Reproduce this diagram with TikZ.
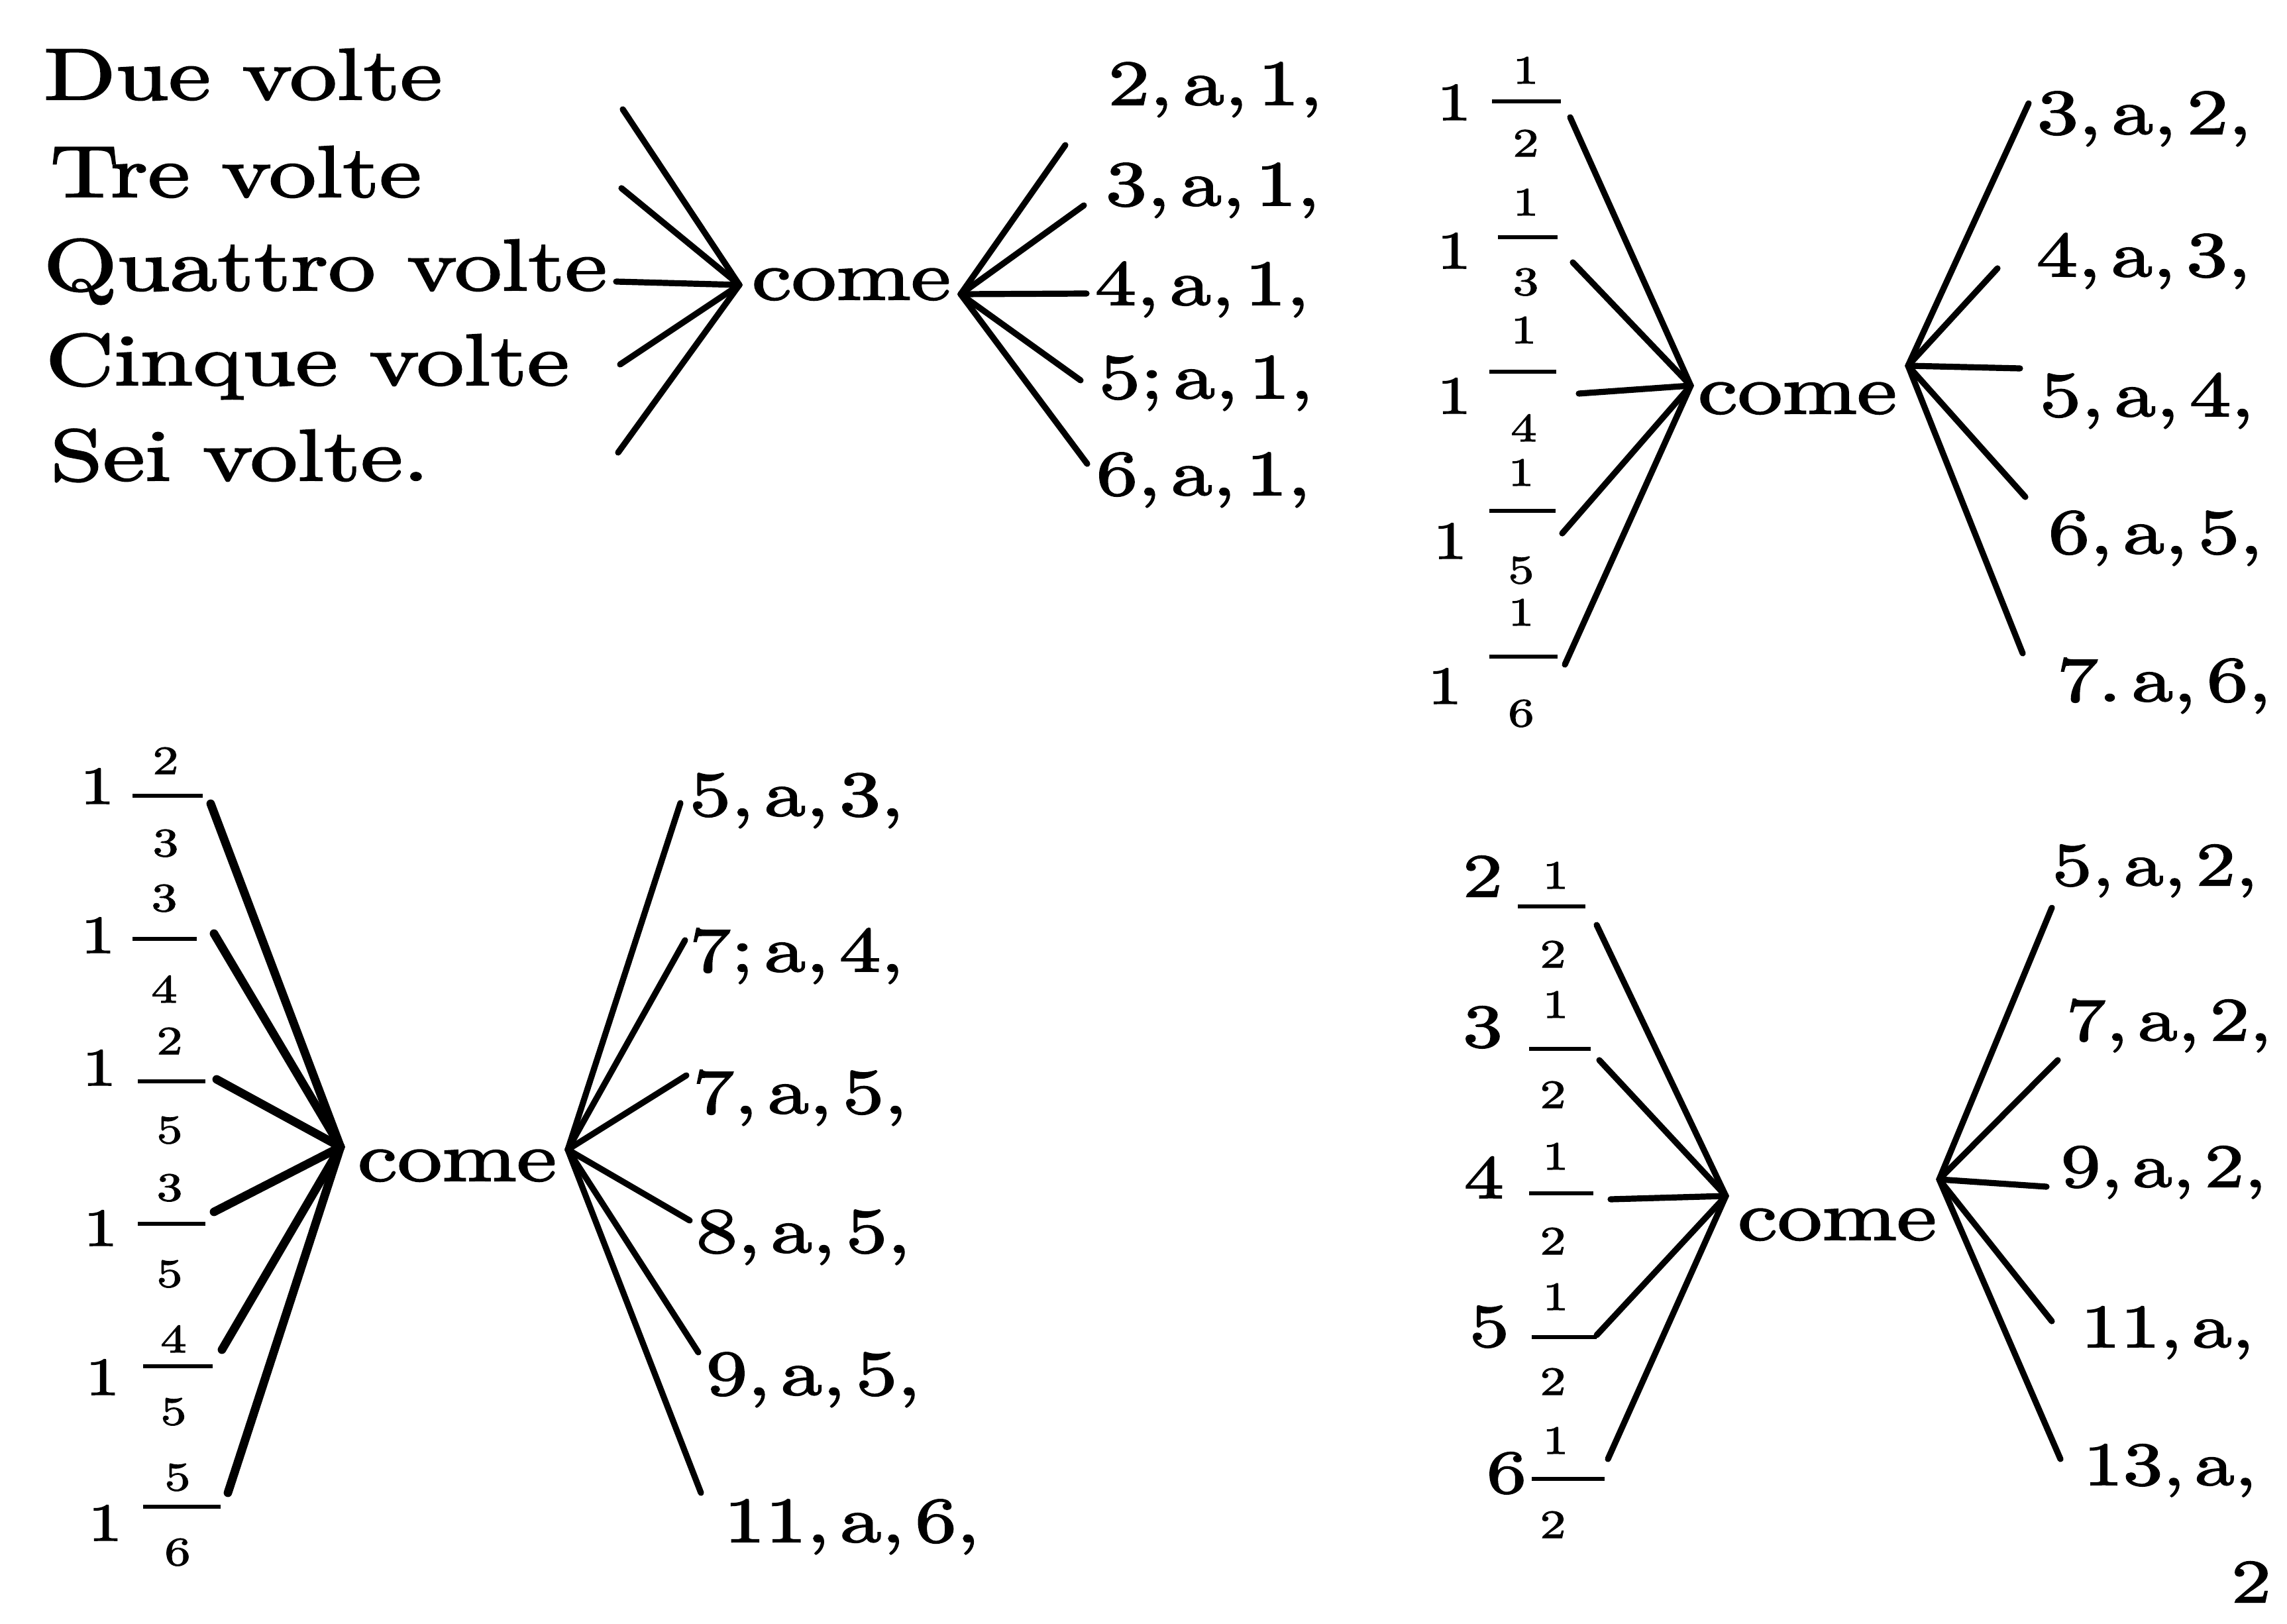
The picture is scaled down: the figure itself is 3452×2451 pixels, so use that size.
\documentclass[tikz,border=0pt]{standalone}
\usepackage{fontspec}
\newfontfamily\oldf{lmroman10-regular.otf}[FakeStretch=1.3,FakeBold=2.2]
\begin{document}
\begin{tikzpicture}[x=0.25pt,y=-0.25pt,
  txt/.style={inner sep=0pt,anchor=base west,font=\oldf\fontsize{27.5}{30}\selectfont},
  comew/.style={inner sep=0pt,anchor=base west,font=\oldf\fontsize{26}{28}\selectfont},
  lab/.style={inner sep=0pt,anchor=base west,font=\oldf\fontsize{24}{26}\selectfont},
  labs/.style={inner sep=0pt,anchor=base west,font=\oldf\fontsize{23}{25}\selectfont},
  intg/.style={inner sep=0pt,anchor=base,font=\oldf\fontsize{20}{22}\selectfont},
  bigint/.style={inner sep=0pt,anchor=base,font=\oldf\fontsize{23}{25}\selectfont},
  fr/.style={inner sep=0pt,anchor=base,font=\oldf\fontsize{15}{17}\selectfont},
  fan/.style={line width=2.3pt,line cap=round},
  fanthick/.style={line width=3.2pt,line cap=round},
  fbar/.style={line width=1.5pt},
]
\useasboundingbox (0,0) rectangle (3452,2451);
\clip (0,0) rectangle (3452,2451);

% ================= Diagram 1 (top left) =================
\node[txt] (due) at (65,150) {Due volte};
\node[txt] (tre) at (75,297) {Tre volte};
\node[txt] (qua) at (65,438) {Quattro volte};
\node[txt] (cin) at (68,581) {Cinque volte};
\node[txt] (sei) at (75,725) {Sei volte.};
\coordinate (kAL) at (1116,430);
\coordinate (kAR) at (1450,444);
\node[comew] (comeA) at (1134,452) {come};
\foreach \x/\y [count=\i] in {940/165,938/284,930/425,936/550,933/683}{
  \coordinate (aL\i) at (\x,\y);
  \draw[fan] (aL\i) -- (kAL);
}
\node[lab] (lA1) at (1672,158) {2,\,a,\,1,};
\node[lab] (lA2) at (1668,310) {3,\,a,\,1,};
\node[lab] (lA3) at (1652,460) {4,\,a,\,1,};
\node[lab] (lA4) at (1658,601) {5;\,a,\,1,};
\node[lab] (lA5) at (1654,747) {6,\,a,\,1,};
\foreach \x/\y [count=\i] in {1608/219,1636/310,1640/443,1631/574,1641/700}{
  \coordinate (aR\i) at (\x,\y);
  \draw[fan] (kAR) -- (aR\i);
}

% ================= Diagram 2 (top right) =================
\foreach \ix/\ib/\nx/\nb/\bx/\bxx/\by/\db/\d [count=\i] in
 {2195/181/2303/126/2252/2356/153/236/2,
  2195/405/2303/325/2261/2351/358/445/3,
  2195/624/2300/518/2248/2349/561/666/4,
  2189/843/2296/733/2248/2348/771/880/5,
  2181/1062/2296/944/2248/2351/991/1096/6}{
  \node[intg] (iB\i) at (\ix,\ib) {1};
  \node[fr] (nB\i) at (\nx,\nb) {1};
  \draw[fbar] (\bx,\by) -- (\bxx,\by);
  \node[fr] (dB\i) at (\nx,\db) {\d};
}
\coordinate (kBL) at (2552,582);
\coordinate (kBR) at (2880,552);
\node[comew] (comeB) at (2562,624) {come};
\foreach \x/\y [count=\i] in {2370/177,2374/396,2383/594,2358/805,2362/1003}{
  \coordinate (bL\i) at (\x,\y);
  \draw[fan] (bL\i) -- (kBL);
}
\node[lab] (lB1) at (3074,202) {3,\,a,\,2,};
\node[lab] (lB2) at (3073,417) {4,\,a,\,3,};
\node[lab] (lB3) at (3078,628) {5,\,a,\,4,};
\node[lab] (lB4) at (3091,835) {6,\,a,\,5,};
\node[lab] (lB5) at (3104,1058) {7.\,a,\,6,};
\foreach \x/\y [count=\i] in {3062/156,3015/405,3049/556,3057/750,3053/986}{
  \coordinate (bR\i) at (\x,\y);
  \draw[fan] (kBR) -- (bR\i);
}

% ================= Diagram 3 (bottom left) =================
\foreach \ix/\ib/\nx/\nb/\n/\bx/\bxx/\by/\db/\d [count=\i] in
 {147/1213/250/1168/2/200/306/1201/1292/3,
  148/1438/248/1375/3/200/297/1417/1513/4,
  150/1638/256/1591/2/208/310/1632/1725/5,
  152/1880/256/1812/3/208/310/1847/1942/5,
  155/2105/262/2041/4/216/321/2062/2150/5,
  159/2325/268/2249/5/216/333/2274/2362/6}{
  \node[intg] (iC\i) at (\ix,\ib) {1};
  \node[fr] (nC\i) at (\nx,\nb) {\n};
  \draw[fbar] (\bx,\by) -- (\bxx,\by);
  \node[fr] (dC\i) at (\nx,\db) {\d};
}
\coordinate (kCL) at (514,1731);
\coordinate (kCR) at (857,1735);
\node[comew] (comeC) at (539,1782) {come};
\foreach \x/\y [count=\i] in {318/1213,323/1409,327/1629,323/1829,335/2037,344/2253}{
  \coordinate (cL\i) at (\x,\y);
  \draw[fanthick] (cL\i) -- (kCL);
}
\node[lab] (lC1) at (1040,1231) {5,\,a,\,3,};
\node[lab] (lC2) at (1040,1466) {7;\,a,\,4,};
\node[lab] (lC3) at (1045,1680) {7,\,a,\,5,};
\node[lab] (lC4) at (1050,1890) {8,\,a,\,5,};
\node[lab] (lC5) at (1065,2105) {9,\,a,\,5,};
\node[lab] (lC6) at (1092,2327) {11,\,a,\,6,};
\foreach \x/\y [count=\i] in {1027/1212,1034/1419,1036/1623,1041/1842,1054/2041,1058/2253}{
  \coordinate (cR\i) at (\x,\y);
  \draw[fan] (kCR) -- (cR\i);
}

% ================= Diagram 4 (bottom right) =================
\foreach \ix/\ib/\w/\nb/\bx/\bxx/\by/\db [count=\i] in
 {2238/1353/2/1341/2291/2393/1368/1460,
  2238/1580/3/1536/2308/2401/1583/1672,
  2240/1808/4/1765/2308/2405/1801/1893,
  2248/2032/5/1977/2312/2410/2018/2105,
  2274/2253/6/2194/2312/2422/2232/2321}{
  \node[bigint] (iD\i) at (\ix,\ib) {\w};
  \node[fr] (nD\i) at (2348,\nb) {1};
  \draw[fbar] (\bx,\by) -- (\bxx,\by);
  \node[fr] (dD\i) at (2344,\db) {2};
}
\coordinate (kDL) at (2605,1805);
\coordinate (kDR) at (2927,1780);
\node[comew] (comeD) at (2622,1871) {come};
\foreach \x/\y [count=\i] in {2410/1396,2414/1600,2431/1810,2410/2015,2427/2202}{
  \coordinate (dL\i) at (\x,\y);
  \draw[fan] (dL\i) -- (kDL);
}
\node[labs] (lD1) at (3097,1336) {5,\,a,\,2,};
\node[labs] (lD2) at (3118,1570) {7,\,a,\,2,};
\node[labs] (lD3) at (3110,1791) {9,\,a,\,2,};
\node[labs] (lD4) at (3140,2033) {11,\,a,};
\node[labs] (lD5) at (3144,2241) {13,\,a,};
\foreach \x/\y [count=\i] in {3097/1370,3106/1600,3089/1791,3097/1994,3110/2202}{
  \coordinate (dR\i) at (\x,\y);
  \draw[fan] (kDR) -- (dR\i);
}
\node[bigint] (catch) at (3398,2418) {2};
\end{tikzpicture}
\end{document}
